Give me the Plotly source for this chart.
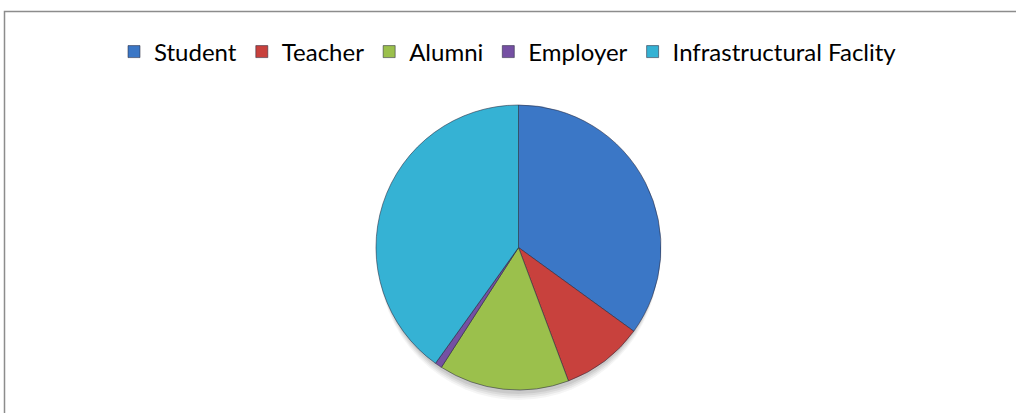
import plotly.graph_objects as go

categories = ["Student", "Teacher", "Alumni", "Employer", "Infrastructural Faclity"]
values = [35.0, 9.3, 14.8, 0.8, 40.1]
colors = ["#3B77C6", "#C8413D", "#9BC04C", "#7550A3", "#35B2D4"]

W, H = 1016, 413
cx, cy, r = 518.5, 247.5, 142.5

fig = go.Figure()
fig.add_trace(go.Pie(
    labels=categories,
    values=values,
    sort=False,
    direction="clockwise",
    rotation=0,
    textinfo="none",
    hoverinfo="label+percent",
    marker=dict(colors=colors, line=dict(color="rgba(40,40,60,0.55)", width=1)),
    domain=dict(x=[(cx - r) / W, (cx + r) / W], y=[1 - (cy + r) / H, 1 - (cy - r) / H]),
))

shapes = []
# soft shadow beneath the pie
for off, op in [(10, 0.04), (8, 0.05), (6, 0.06), (4, 0.07)]:
    shapes.append(dict(type="circle", xref="paper", yref="paper", layer="below",
                       x0=(cx - r + 2) / W, x1=(cx + r - 2) / W,
                       y0=1 - (cy + r + off) / H, y1=1 - (cy - r + off) / H,
                       fillcolor=f"rgba(0,0,0,{op})", line=dict(width=0)))
# frame
shapes.append(dict(type="rect", xref="paper", yref="paper",
                   x0=4.5 / W, x1=1.02, y0=-0.05, y1=1 - 11.5 / H,
                   line=dict(color="#8C8C8C", width=1.5), fillcolor="rgba(0,0,0,0)"))

fig.update_layout(
    width=W, height=H,
    margin=dict(l=0, r=0, t=0, b=0),
    paper_bgcolor="white",
    plot_bgcolor="white",
    font=dict(family="Lato, 'Open Sans', sans-serif", color="#000000"),
    showlegend=True,
    legend=dict(orientation="h", x=0.5, xanchor="center", y=1 - 52 / H, yanchor="middle",
                font=dict(size=24, family="Lato, sans-serif", color="#000000"),
                itemwidth=30, traceorder="normal"),
    shapes=shapes,
)

fig.write_html("out.html",
               config={"displayModeBar": False},
               post_script="document.body.style.margin='0';document.body.style.overflow='hidden';")
